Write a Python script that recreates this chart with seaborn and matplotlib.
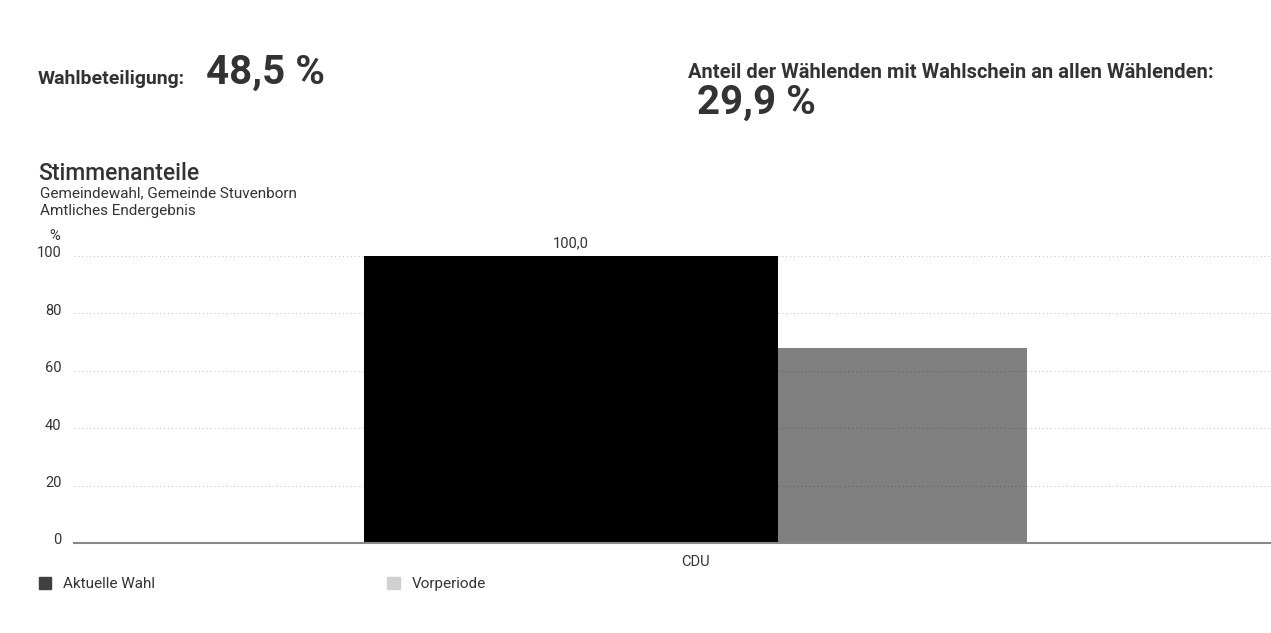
import matplotlib
matplotlib.use("Agg")
import matplotlib.pyplot as plt
import matplotlib.transforms as mtransforms
from matplotlib.patches import Patch
import pandas as pd
import seaborn as sns

# Werte aus dem Diagramm
parties = ["CDU"]
current = [100.0]
previous = [67.9]
periods = ["Aktuelle Wahl", "Vorperiode"]
turnout_label = "48,5 %"
absentee_label = "29,9 %"
yticks = [0, 20, 40, 60, 80, 100]

df = pd.DataFrame({
    "partei": parties * 2,
    "anteil": current + previous,
    "periode": [periods[0]] * len(parties) + [periods[1]] * len(parties),
})

W, H = 1271, 633
TXT = "#333333"

sns.set_theme(style="white")
plt.rcParams["font.family"] = ["Roboto", "DejaVu Sans"]


def fx(px):
    return px / W


def fy(py):
    return 1 - py / H


fig = plt.figure(figsize=(W / 100, H / 100), dpi=100)
ax = fig.add_axes([fx(74), fy(543), fx(1270) - fx(74), fy(256) - fy(543)])

sns.barplot(data=df, x="partei", y="anteil", hue="periode",
            palette=["#000000", "#808080"], saturation=1, linewidth=0,
            width=0.554, dodge=True, legend=False, ax=ax)

# aktuelle Säule breiter als Vorperiode, direkt aneinander
cur_bar = ax.containers[0].patches[0]
prev_bar = ax.containers[1].patches[0]
half = 0.27715
cur_bar.set_x(-half)
cur_bar.set_width(0.3461)
prev_bar.set_x(-half + 0.3461)
prev_bar.set_width(0.2082)

ax.bar_label(ax.containers[0],
             labels=[f"{v:.1f}".replace(".", ",") for v in current],
             padding=4, fontsize=10.5, color=TXT)

ax.set_xlim(-0.5197, 0.4803)
ax.set_ylim(0, 100)
ax.set_yticks(yticks)
ax.set_xlabel("")
ax.set_ylabel("")

ax.set_axisbelow(False)
ax.yaxis.grid(True, linestyle=(0, (1, 2.5)), color="black", alpha=0.22, linewidth=0.8)
ax.xaxis.grid(False)
for s in ["top", "right", "left"]:
    ax.spines[s].set_visible(False)
ax.spines["bottom"].set_color("#888888")
ax.spines["bottom"].set_linewidth(1.5)
ax.spines["bottom"].set_zorder(5)

ax.tick_params(axis="y", length=0, pad=9, labelsize=10.5, labelcolor=TXT)
ax.tick_params(axis="x", length=0, pad=9, labelsize=10.5, labelcolor=TXT)
shift = mtransforms.ScaledTranslation(0, 3 / 72, fig.dpi_scale_trans)
for lbl in ax.get_yticklabels():
    lbl.set_transform(lbl.get_transform() + shift)

fig.text(fx(55), fy(240), "%", fontsize=10.5, color=TXT, ha="center", va="baseline")

# Kopfzeile
fig.text(fx(38), fy(84), "Wahlbeteiligung:", fontsize=14, fontweight="bold",
         color=TXT, va="baseline")
fig.text(fx(206), fy(84), turnout_label, fontsize=29, fontweight="bold",
         color=TXT, va="baseline")
fig.text(fx(688), fy(78), "Anteil der Wählenden mit Wahlschein an allen Wählenden:",
         fontsize=14.5, fontweight="bold", color=TXT, va="baseline")
fig.text(fx(697), fy(114), absentee_label, fontsize=29, fontweight="bold",
         color=TXT, va="baseline")

fig.text(fx(38), fy(180), "Stimmenanteile", fontsize=16.5, fontweight="medium",
         color=TXT, va="baseline")
fig.text(fx(40), fy(197), "Gemeindewahl, Gemeinde Stuvenborn", fontsize=11,
         color=TXT, va="baseline")
fig.text(fx(40), fy(215), "Amtliches Endergebnis", fontsize=11, color=TXT, va="baseline")

handles = [Patch(color="#404040"), Patch(color="#d0d0d0")]
fig.legend(handles, periods, loc="center left", bbox_to_anchor=(fx(25), fy(584)),
           ncol=2, frameon=False, fontsize=11, labelcolor=TXT,
           handlelength=0.8, handleheight=0.8, handletextpad=0.8,
           columnspacing=15.2)

fig.savefig("out.png", dpi=100, facecolor="white")
